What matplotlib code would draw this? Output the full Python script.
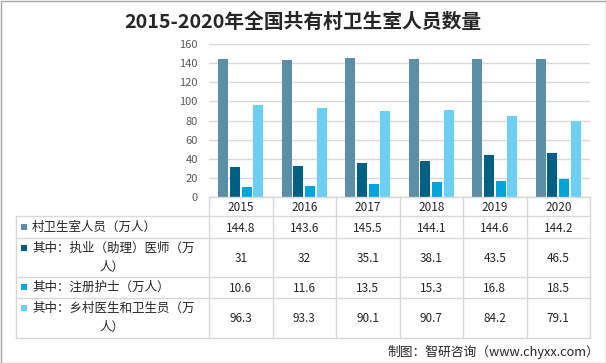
import matplotlib
matplotlib.use('Agg')
import matplotlib.pyplot as plt
from matplotlib.patches import Rectangle
import numpy as np

plt.rcParams['font.family'] = ['Noto Sans CJK SC', 'DejaVu Sans']

# data
years = ['2015', '2016', '2017', '2018', '2019', '2020']
village_staff = [144.8, 143.6, 145.5, 144.1, 144.6, 144.2]
doctors = [31, 32, 35.1, 38.1, 43.5, 46.5]
nurses = [10.6, 11.6, 13.5, 15.3, 16.8, 18.5]
rural_doctors = [96.3, 93.3, 90.1, 90.7, 84.2, 79.1]
series_names = ['村卫生室人员（万人）', '其中：执业（助理）医师（万\n人）',
                '其中：注册护士（万人）', '其中：乡村医生和卫生员（万\n人）']
value_labels = [['144.8', '143.6', '145.5', '144.1', '144.6', '144.2'],
                ['31', '32', '35.1', '38.1', '43.5', '46.5'],
                ['10.6', '11.6', '13.5', '15.3', '16.8', '18.5'],
                ['96.3', '93.3', '90.1', '90.7', '84.2', '79.1']]
colors = ['#5B8FA8', '#005F85', '#00A3DA', '#6DCFF6']

W, H = 606, 363
fig = plt.figure(figsize=(W / 100, H / 100), dpi=100)

# bar chart area (pixel layout)
px_left, px_right, px_top, px_bottom = 209, 590, 44, 197
ax = fig.add_axes([px_left / W, 1 - px_bottom / H, (px_right - px_left) / W, (px_bottom - px_top) / H])
x = np.arange(len(years))
width = 0.155
step = 0.185
all_series = [village_staff, doctors, nurses, rural_doctors]
for i, (vals, c) in enumerate(zip(all_series, colors)):
    ax.bar(x + (i - 1.5) * step, vals, width=width, color=c, zorder=3)
ax.set_xlim(-0.5, len(years) - 0.5)
ax.set_ylim(0, 160)
ax.set_yticks(range(0, 161, 20))
ax.set_xticks([])
ax.yaxis.grid(True, color='#D9D9D9', linewidth=1)
ax.tick_params(axis='y', length=0, labelsize=8, labelcolor='#595959', pad=8)
for s in ['top', 'right', 'left']:
    ax.spines[s].set_visible(False)
ax.spines['bottom'].set_color('#D9D9D9')

# overlay in pixel coords for title, table, source
ov = fig.add_axes([0, 0, 1, 1])
ov.set_xlim(0, W)
ov.set_ylim(H, 0)
ov.axis('off')
ov.add_patch(Rectangle((0.5, 0.5), W - 1, H - 1, fill=False, edgecolor='#A6A6A6', linewidth=1))

ov.text(303, 22, '2015-2020年全国共有村卫生室人员数量', ha='center', va='center',
        fontsize=14.2, fontweight='bold', color='#262626')

# table
grid_c = '#D9D9D9'
tbl_left = 16
col_edges = np.linspace(px_left, px_right, len(years) + 1)
row_edges = [197, 216, 238, 277, 298, 338]
# horizontal lines
ov.plot([px_left, px_right], [row_edges[0]] * 2, color=grid_c, lw=1)
for y in row_edges[1:]:
    ov.plot([tbl_left, px_right], [y, y], color=grid_c, lw=1)
# vertical lines
for xe in col_edges:
    ov.plot([xe, xe], [row_edges[0], row_edges[-1]], color=grid_c, lw=1)
ov.plot([tbl_left, tbl_left], [row_edges[1], row_edges[-1]], color=grid_c, lw=1)

for j, yr in enumerate(years):
    xc = (col_edges[j] + col_edges[j + 1]) / 2
    ov.text(xc, (row_edges[0] + row_edges[1]) / 2 + 1, yr, ha='center', va='center',
            fontsize=8.5, color='#262626')

for i, name in enumerate(series_names):
    y0, y1 = row_edges[i + 1], row_edges[i + 2]
    yc = (y0 + y1) / 2
    lines = name.split('\n')
    if len(lines) == 1:
        ov.add_patch(Rectangle((21, yc - 3.5), 6, 6, color=colors[i], lw=0))
        ov.text(32, yc, lines[0], ha='left', va='center', fontsize=9, color='#262626')
    else:
        ya, yb = yc - 9.5, yc + 9.5
        ov.add_patch(Rectangle((21, ya - 3.5), 6, 6, color=colors[i], lw=0))
        ov.text(32, ya, lines[0], ha='left', va='center', fontsize=9, color='#262626')
        ov.text(112, yb, lines[1], ha='center', va='center', fontsize=9, color='#262626')
    for j, v in enumerate(value_labels[i]):
        xc = (col_edges[j] + col_edges[j + 1]) / 2
        ov.text(xc, yc + 1, v, ha='center', va='center', fontsize=8.5, color='#262626')

ov.text(599, 352, '制图：智研咨询（www.chyxx.com）', ha='right', va='center',
        fontsize=9.2, color='#262626')

fig.savefig('out.png', dpi=100)
